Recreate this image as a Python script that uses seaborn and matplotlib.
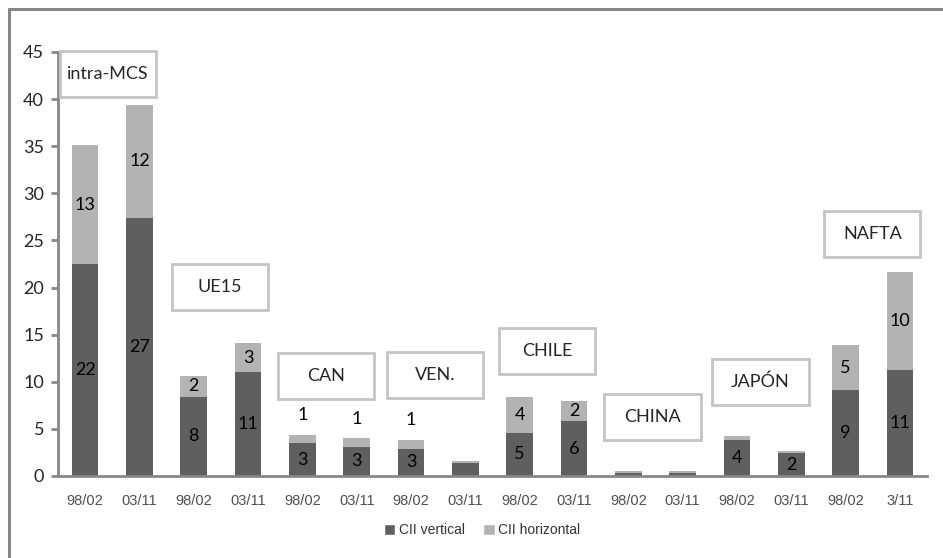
import numpy as np
import pandas as pd
import matplotlib
matplotlib.use("Agg")
import matplotlib.pyplot as plt
import matplotlib.transforms as mtransforms
from matplotlib.lines import Line2D
from matplotlib.patches import Patch
import seaborn as sns

# datos
periodos = ["98/02", "03/11", "98/02", "03/11", "98/02", "03/11", "98/02", "03/11",
            "98/02", "03/11", "98/02", "03/11", "98/02", "03/11", "98/02", "3/11"]
cii_vertical = [22.5, 27.4, 8.4, 11.0, 3.5, 3.1, 2.9, 1.4,
                4.6, 5.8, 0.35, 0.35, 3.85, 2.4, 9.1, 11.3]
cii_horizontal = [12.6, 12.0, 2.2, 3.1, 0.85, 0.9, 0.9, 0.2,
                  3.8, 2.2, 0.18, 0.2, 0.35, 0.3, 4.8, 10.3]
etq_vertical = ["22", "27", "8", "11", "3", "3", "3", "", "5", "6", "", "", "4", "2", "9", "11"]
etq_horizontal = ["13", "12", "2", "3", "1", "1", "1", "", "4", "2", "", "", "", "", "5", "10"]
regiones = ["intra-MCS", "UE15", "CAN", "VEN.", "CHILE", "CHINA", "JAPÓN", "NAFTA"]

# cajas de las regiones (x izquierda, y abajo) en unidades del eje
cajas = [(-0.46, 40.2), (1.60, 17.6), (3.55, 8.2), (5.56, 8.3),
         (7.62, 10.8), (9.56, 3.8), (11.55, 7.5), (13.61, 23.2)]
# desplazamiento (px) de las etiquetas del eje x, como en el original
desplaz_x = [1, 12, 6, 9, 4, 5, 4, 4, 8, 8, 2, 4, 9, 3, 2, 1]

oscuro = "#5f5f5f"
claro = "#b3b3b3"
gris_eje = "#888888"
fuente_num = ["Lato", "DejaVu Sans"]

sns.set_style("white")
plt.rcParams["font.family"] = ["Liberation Sans", "DejaVu Sans"]

df = pd.DataFrame({
    "pos": range(len(periodos)),
    "vertical": cii_vertical,
    "total": np.array(cii_vertical) + np.array(cii_horizontal),
})

fig = plt.figure(figsize=(9.43, 5.58), dpi=100)
ax = fig.add_axes([58 / 943, 82 / 558, 869 / 943, 424 / 558])

sns.barplot(data=df, x="pos", y="total", color=claro, width=0.49,
            saturation=1, ax=ax, native_scale=True)
sns.barplot(data=df, x="pos", y="vertical", color=oscuro, width=0.49,
            saturation=1, ax=ax, native_scale=True)
for bar in ax.patches:
    bar.set_linewidth(0)

# etiquetas de valores
for i in range(len(periodos)):
    v = cii_vertical[i]
    h = cii_horizontal[i]
    if etq_vertical[i]:
        ax.text(i, v / 2, etq_vertical[i], ha="center", va="center",
                fontsize=13, family=fuente_num, color="black")
    if etq_horizontal[i]:
        yy = v + h / 2 if h > 1.5 else v + h + 2.1
        ax.text(i, yy, etq_horizontal[i], ha="center", va="center",
                fontsize=13, family=fuente_num, color="black")

# cajas con el nombre de cada región
for nombre, (x0, y0) in zip(regiones, cajas):
    ax.add_patch(plt.Rectangle((x0, y0), 1.77, 4.9, facecolor="white",
                               edgecolor="#c4c4c4", linewidth=2, zorder=5,
                               clip_on=False))
    ax.text(x0 + 0.885, y0 + 2.45, nombre, ha="center", va="center",
            fontsize=13, family=fuente_num, zorder=6)

ax.set_xlim(-0.5, 15.5)
ax.set_ylim(0, 45)
ax.set_yticks(range(0, 46, 5))
ax.set_yticklabels([str(t) for t in range(0, 46, 5)], family=fuente_num, fontsize=13)
ax.set_xticks(range(len(periodos)))
ax.set_xticklabels(periodos, fontsize=10.5, color="#4f4f4f")
for lbl, dx in zip(ax.get_xticklabels(), desplaz_x):
    lbl.set_transform(lbl.get_transform() +
                      mtransforms.ScaledTranslation(dx / 100, 0, fig.dpi_scale_trans))
ax.set_xticks(np.arange(-0.5, 16, 1), minor=True)
ax.tick_params(axis="x", which="major", length=0, pad=13)
ax.tick_params(axis="x", which="minor", length=5, width=2, color=gris_eje, direction="out")
ax.tick_params(axis="y", length=5, width=2, color=gris_eje, direction="out", pad=5, left=True)
ax.set_xlabel("")
ax.set_ylabel("")
for s in ["top", "right"]:
    ax.spines[s].set_visible(False)
for s in ["left", "bottom"]:
    ax.spines[s].set_color(gris_eje)
    ax.spines[s].set_linewidth(2)

# leyenda
handles = [Patch(facecolor=oscuro, label="CII vertical"),
           Patch(facecolor=claro, label="CII horizontal")]
fig.legend(handles=handles, loc="center", bbox_to_anchor=(482 / 943, 1 - 530 / 558),
           ncol=2, frameon=False, fontsize=10, handlelength=0.85, handleheight=0.85,
           handletextpad=0.25, columnspacing=1.3, labelcolor="#333333")

# marco exterior (solo izquierda y arriba visibles)
fig.add_artist(Line2D([9 / 943, 9 / 943], [0, 1 - 9 / 558], transform=fig.transFigure,
                      color=gris_eje, linewidth=2.2))
fig.add_artist(Line2D([9 / 943, 1], [1 - 9 / 558, 1 - 9 / 558], transform=fig.transFigure,
                      color=gris_eje, linewidth=2.2))

fig.savefig("out.png", dpi=100)
